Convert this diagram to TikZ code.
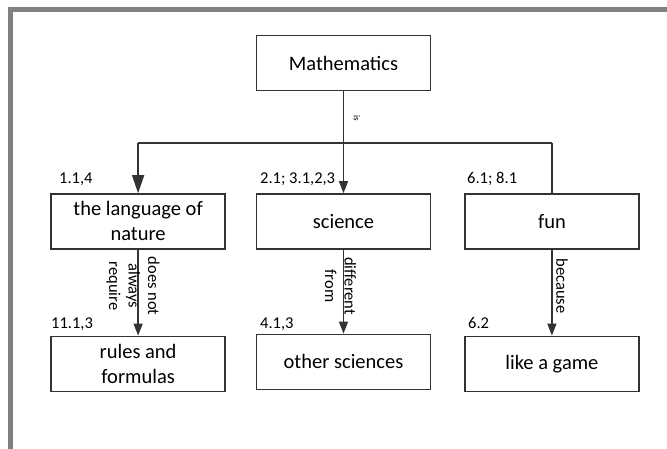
\documentclass[tikz,border=0pt]{standalone}
\usepackage{fontspec}
\setmainfont{Carlito}
\usetikzlibrary{arrows.meta,positioning}
\tikzset{
  concept/.style={rectangle, draw=black!80, line width=1.4pt, fill=white, minimum width=174pt, minimum height=55pt, align=center, inner sep=2pt, font=\fontsize{20.5}{25}\selectfont},
  ref/.style={anchor=base west, inner sep=0pt, font=\fontsize{16.5}{20}\selectfont},
  link/.style={line width=1.4pt, draw=black!80},
  arrow/.style={link, -{Triangle[length=12pt,width=9pt]}},
  rel/.style={rotate=-90, align=center, inner sep=0pt, font=\fontsize{16.5}{19.5}\selectfont}
}

\begin{document}
\begin{tikzpicture}[x=1pt,y=-1pt]
  \useasboundingbox (0,0) rectangle (667,449);
  % window frame
  \draw[gray, line width=5pt] (10,449) -- (10,10) -- (667,10);

  \node[concept] (math) at (343.5,63) {Mathematics};
  \node[concept, below=102pt of math] (sci) {science};
  \node[concept, left=30pt of sci] (lang) {the language of\\nature};
  \node[concept, right=33pt of sci] (fun) {fun};
  \node[concept, below=84pt of sci] (other) {other sciences};
  \node[concept, below=86pt of lang] (rules) {rules and\\formulas};
  \node[concept, below=86pt of fun] (game) {like a game};

  % references
  \node[ref] (refLang) at (59,184) {1.1,4};
  \node[ref] (refSci) at (260,184) {2.1; 3.1,2,3};
  \node[ref] (refFun) at (467,184) {6.1; 8.1};
  \node[ref] (refRules) at (51,328) {11.1,3};
  \node[ref] (refOther) at (260,328) {4.1,3};
  \node[ref] (refGame) at (468,328) {6.2};

  % fork
  \coordinate (fork) at (343.5,143);
  \coordinate (forkL) at (lang |- fork);
  \coordinate (forkR) at (fun |- fork);
  \draw[arrow] (math) -- (sci);
  \draw[link] (forkL) -- (forkR);
  \draw[link, -{Triangle[length=18pt,width=12pt]}] (forkL) -- (lang);
  \draw[link] (forkR) -- (fun);
  \node[rel, font=\fontsize{9}{10}\selectfont] (lblIs) at (357,118) {is};

  \draw[arrow] (lang) -- (rules);
  \draw[arrow] (sci) -- (other);
  \draw[arrow] (fun) -- (game);
  \node[rel] (lblReq) at (133,286) {does not\\always\\require};
  \node[rel] (lblDiff) at (340.5,286) {different\\from};
  \node[rel] (lblBec) at (562,286) {because};
\end{tikzpicture}
\end{document}
